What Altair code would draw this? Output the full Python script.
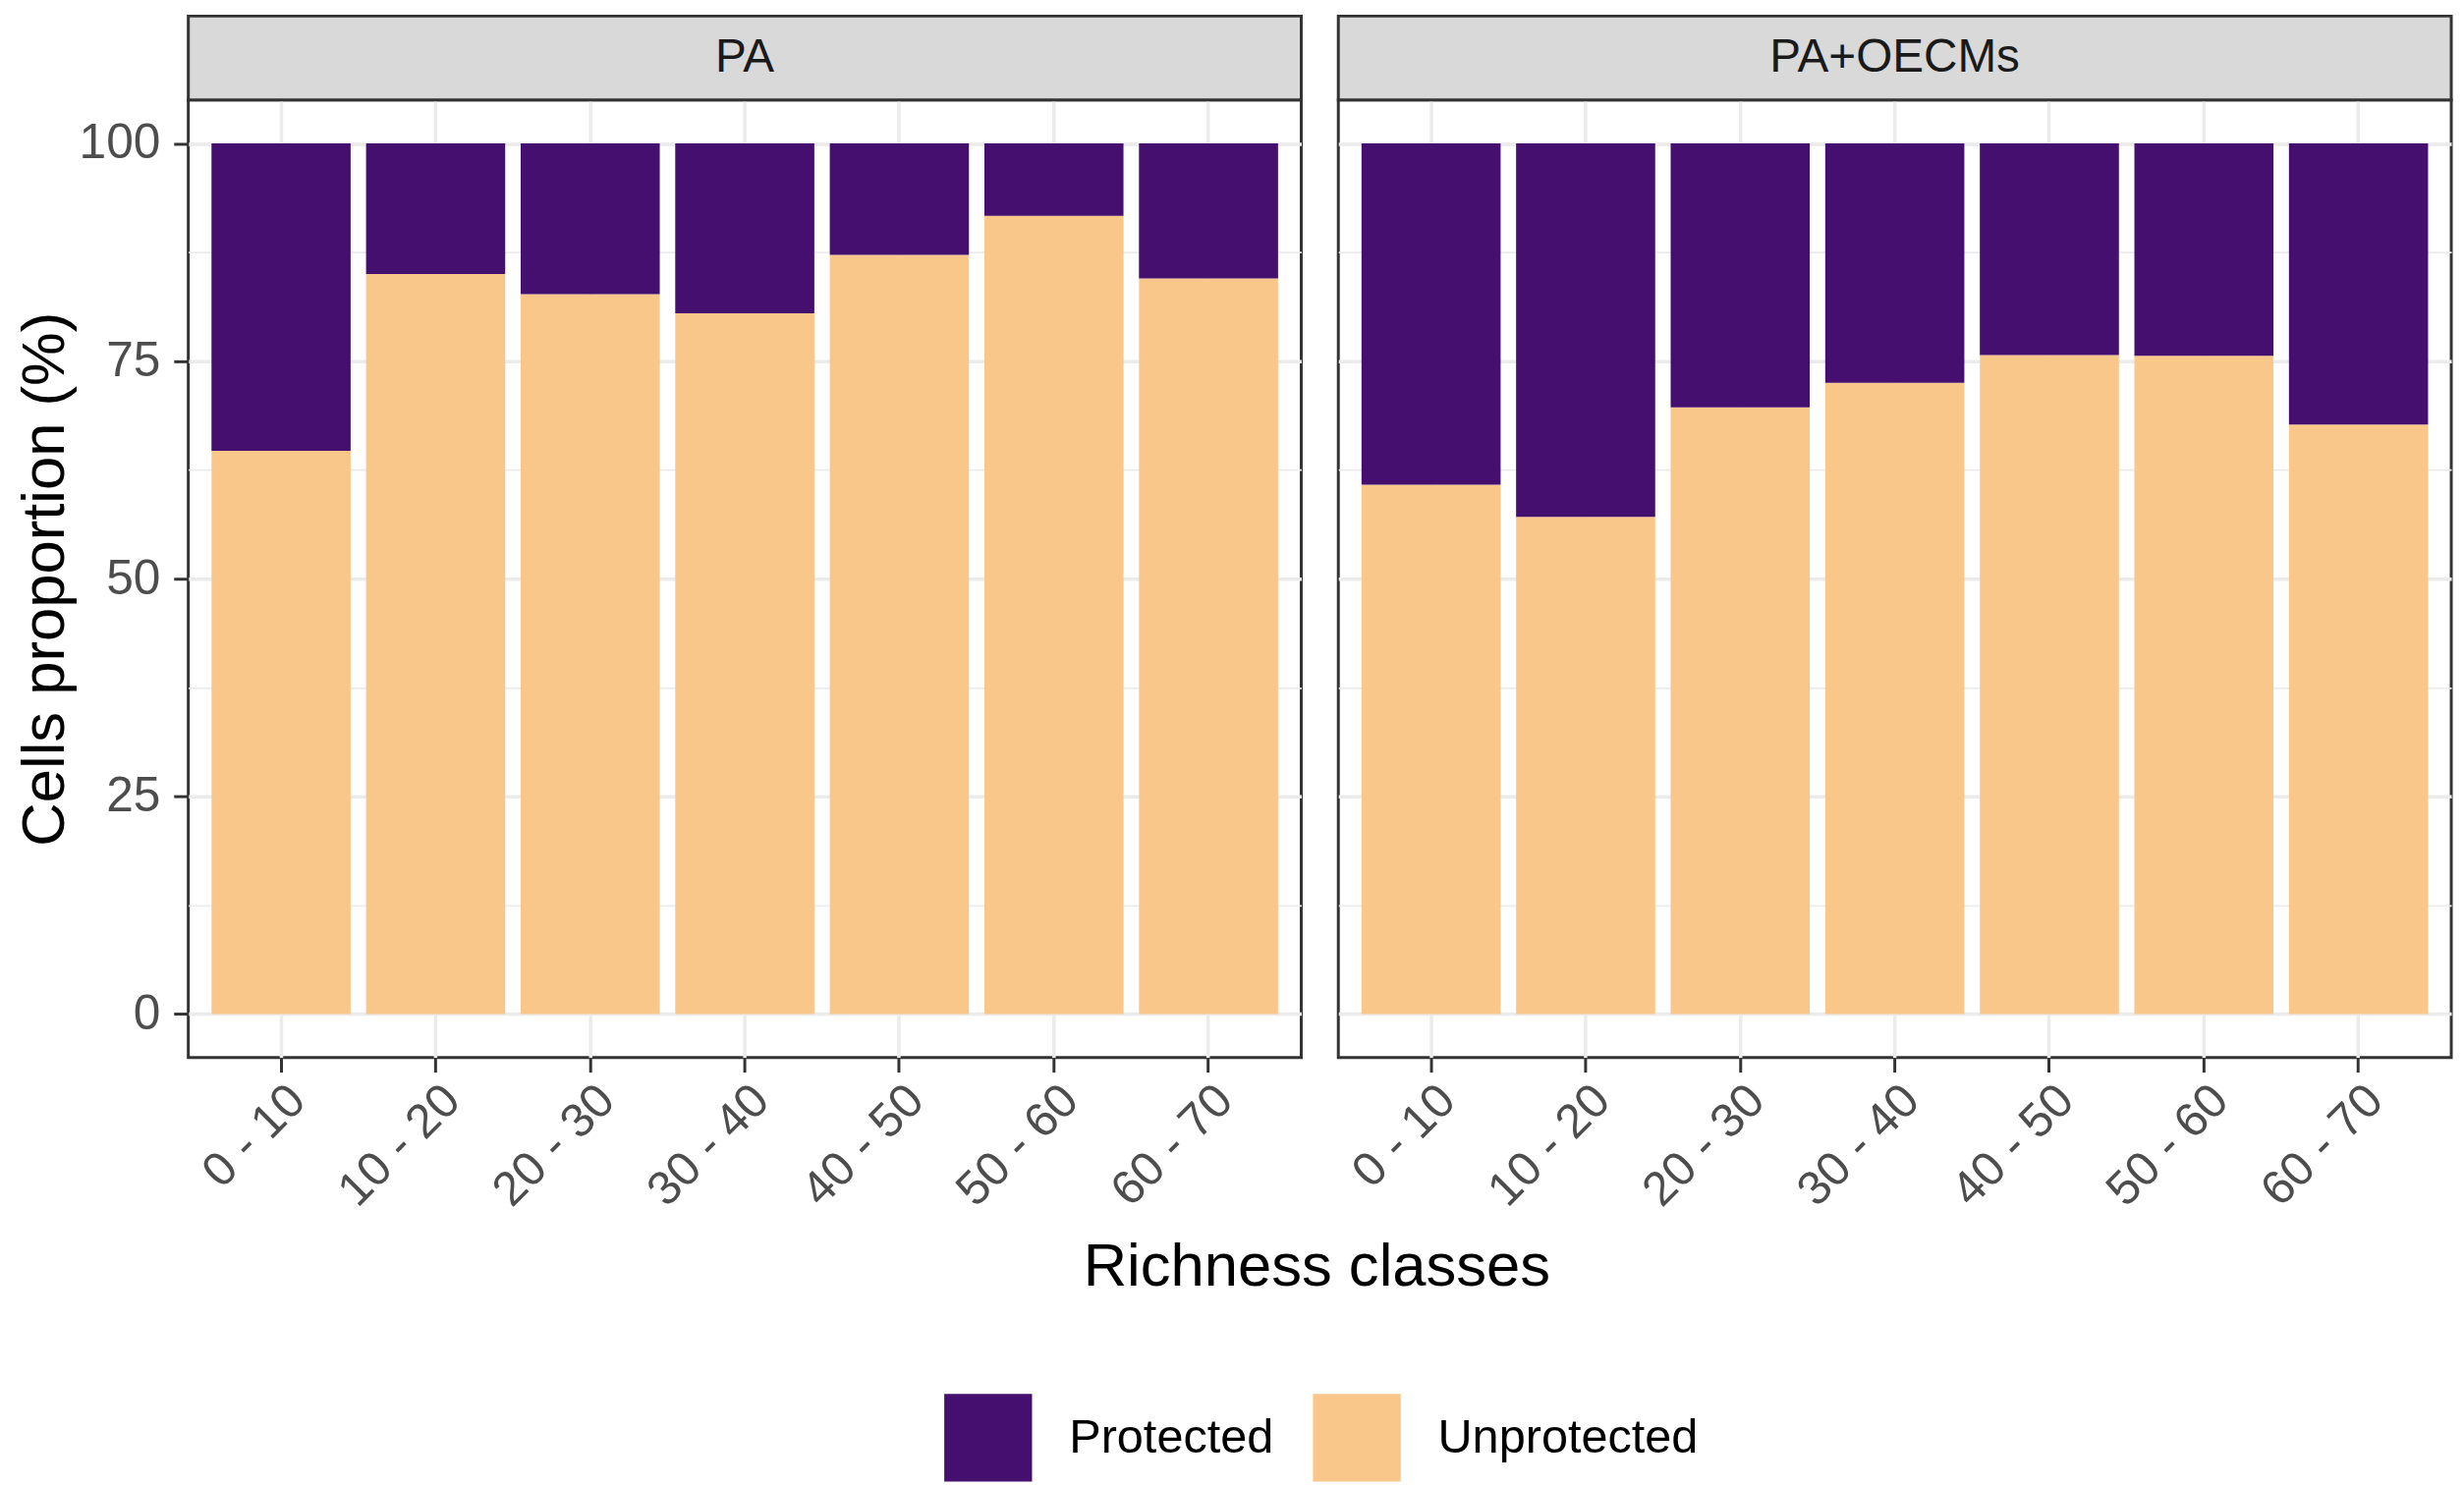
import altair as alt
import pandas as pd

classes = ["0 - 10", "10 - 20", "20 - 30", "30 - 40", "40 - 50", "50 - 60", "60 - 70"]
panel_names = ["PA", "PA+OECMs"]
pa_unprotected = [64.7, 85.0, 82.7, 80.5, 87.2, 91.7, 84.5]
pa_protected = [35.3, 15.0, 17.3, 19.5, 12.8, 8.3, 15.5]
oecm_unprotected = [60.8, 57.1, 69.7, 72.5, 75.7, 75.6, 67.7]
oecm_protected = [39.2, 42.9, 30.3, 27.5, 24.3, 24.4, 32.3]
status_levels = ["Protected", "Unprotected"]
status_colors = ["#440F6F", "#FAC78A"]
y_ticks = [0, 12.5, 25, 37.5, 50, 62.5, 75, 87.5, 100]
y_title = "Cells proportion (%)"
x_title = "Richness classes"

FONT = "Liberation Sans"
W, H = 1141, 982
STRIP = 86
SPACING = 32


def panel_df(unprot, prot):
    rows = []
    for c, u, p in zip(classes, unprot, prot):
        rows.append({"cls": c, "status": "Unprotected", "value": u, "ord": 0})
        rows.append({"cls": c, "status": "Protected", "value": p, "ord": 1})
    return pd.DataFrame(rows)


major = "datum.value % 25 === 0"


def panel(name, df, first):
    if first:
        yaxis = alt.Axis(
            values=y_ticks,
            labelExpr="datum.value % 25 === 0 ? datum.label : ''",
            labelFontSize=50, labelColor="#4D4D4D", labelPadding=14,
            labelFlush=False, labelOverlap=False,
            tickSize=15, tickWidth=3, tickColor="#333333",
            tickOpacity=alt.condition(major, alt.value(1), alt.value(0)),
            domain=False, grid=True, gridColor="#EBEBEB",
            gridWidth=alt.condition(major, alt.value(3.5), alt.value(1.8)),
            title=y_title, titleFontSize=62, titlePadding=3,
        )
    else:
        yaxis = alt.Axis(
            values=y_ticks, labels=False, ticks=False, domain=False,
            grid=True, gridColor="#EBEBEB",
            gridWidth=alt.condition(major, alt.value(3.5), alt.value(1.8)),
            title=None,
        )
    xaxis = alt.Axis(
        bandPosition=0.5, labelAngle=-45, labelAlign="right", labelBaseline="top",
        labelFontSize=49, labelColor="#4D4D4D", labelPadding=4,
        tickSize=15, tickWidth=3, tickColor="#333333",
        domain=False, grid=True, gridColor="#EBEBEB", gridWidth=3.5, title=None,
    )
    bars = alt.Chart(df).mark_bar().encode(
        x=alt.X("cls:N", sort=classes,
                scale=alt.Scale(paddingInner=0.1, paddingOuter=0.15), axis=xaxis),
        y=alt.Y("value:Q", stack="zero",
                scale=alt.Scale(domain=[-5, 105], nice=False, zero=False), axis=yaxis),
        color=alt.Color(
            "status:N",
            scale=alt.Scale(domain=status_levels, range=status_colors),
            legend=alt.Legend(
                orient="none", legendX=775, legendY=1327, direction="horizontal",
                title=None, symbolType="square", symbolSize=8100,
                symbolStrokeWidth=0, symbolOpacity=1,
                labelFontSize=49, labelFont=FONT, labelColor="black",
                labelLimit=500, labelOffset=38, columnPadding=40,
            ),
        ),
        order=alt.Order("ord:Q"),
    )
    sdf = pd.DataFrame({"panel": [name]})
    strip_rect = alt.Chart(sdf).mark_rect(
        fill="#D9D9D9", stroke="#333333", strokeWidth=3
    ).encode(x=alt.value(0), x2=alt.value(W), y=alt.value(-STRIP), y2=alt.value(0))
    strip_text = alt.Chart(sdf).mark_text(
        fontSize=48, font=FONT, color="#1A1A1A", baseline="middle", align="center"
    ).encode(text="panel:N", x=alt.value(W / 2), y=alt.value(-STRIP / 2))
    return alt.layer(bars, strip_rect, strip_text).properties(width=W, height=H)


p1 = panel(panel_names[0], panel_df(pa_unprotected, pa_protected), True)
p2 = panel(panel_names[1], panel_df(oecm_unprotected, oecm_protected), False)

TOTAL_W = 2 * W + SPACING
xt = alt.Chart(pd.DataFrame({"t": [x_title]})).mark_text(
    fontSize=62, font=FONT, color="black", baseline="middle", align="center"
).encode(text="t:N", x=alt.value(TOTAL_W / 2), y=alt.value(46)).properties(
    width=TOTAL_W, height=80, view=alt.ViewBackground(strokeOpacity=0)
)

chart = alt.vconcat(
    alt.hconcat(p1, p2, spacing=SPACING), xt, spacing=5
).configure(
    font=FONT, padding={"left": 5, "top": 0, "right": 2, "bottom": 0}
).configure_view(
    stroke="#333333", strokeWidth=3
).configure_axis(
    labelFont=FONT, titleFont=FONT, titleFontWeight="normal", titleColor="black"
)

chart.save("out.html", embed_options={"renderer": "svg", "actions": False})
